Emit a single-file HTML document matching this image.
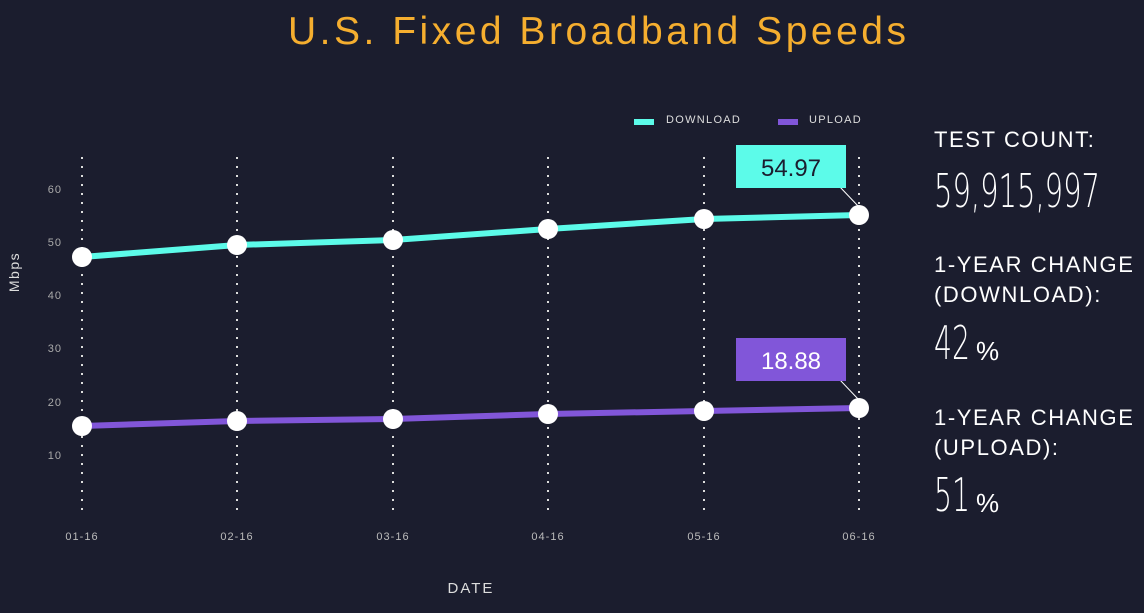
<!DOCTYPE html>
<html><head><style>
body{margin:0;width:1144px;height:608px;background:#1b1d2e;overflow:hidden;font-family:"Liberation Sans",sans-serif}
</style></head><body>
<svg width="1144" height="608" xmlns="http://www.w3.org/2000/svg">
<text x="597" y="44" text-anchor="middle" fill="#f5ae2f" font-size="39" font-family="Liberation Sans" textLength="618" lengthAdjust="spacing">U.S. Fixed Broadband Speeds</text>
<g stroke="#ddd" stroke-width="2" stroke-dasharray="2 7">
<line x1="82" y1="157" x2="82" y2="515"/><line x1="237" y1="157" x2="237" y2="515"/><line x1="393" y1="157" x2="393" y2="515"/><line x1="548" y1="157" x2="548" y2="515"/><line x1="704" y1="157" x2="704" y2="515"/><line x1="859" y1="157" x2="859" y2="515"/>
</g>
<g fill="#aaa" font-size="11" text-anchor="end" letter-spacing="1">
<text x="62" y="193">60</text><text x="62" y="246">50</text><text x="62" y="299">40</text><text x="62" y="352">30</text><text x="62" y="406">20</text><text x="62" y="459">10</text>
</g>
<text transform="translate(19,272) rotate(-90)" text-anchor="middle" fill="#ddd" font-size="14" letter-spacing="1.5">Mbps</text>
<g fill="#bbb" font-size="11" text-anchor="middle" letter-spacing="1">
<text x="82" y="540">01-16</text><text x="237" y="540">02-16</text><text x="393" y="540">03-16</text><text x="548" y="540">04-16</text><text x="704" y="540">05-16</text><text x="859" y="540">06-16</text>
</g>
<text x="471" y="593" text-anchor="middle" fill="#ddd" font-size="15" letter-spacing="2">DATE</text>
<rect x="634" y="119" width="20" height="6" fill="#5cfbe9"/><text x="666" y="123" fill="#ddd" font-size="11" letter-spacing="1.3">DOWNLOAD</text>
<rect x="778" y="119" width="20" height="6" fill="#8156d9"/><text x="809" y="123" fill="#ddd" font-size="11" letter-spacing="1.3">UPLOAD</text>
<polyline points="82,257 237,245 393,240 548,229 704,219 859,215" fill="none" stroke="#5cfbe9" stroke-width="6"/>
<polyline points="82,426 237,421 393,419 548,414 704,411 859,408" fill="none" stroke="#8156d9" stroke-width="6"/>
<g fill="#fff">
<circle cx="82" cy="257" r="10"/><circle cx="237" cy="245" r="10"/><circle cx="393" cy="240" r="10"/><circle cx="548" cy="229" r="10"/><circle cx="704" cy="219" r="10"/><circle cx="859" cy="215" r="10"/>
<circle cx="82" cy="426" r="10"/><circle cx="237" cy="421" r="10"/><circle cx="393" cy="419" r="10"/><circle cx="548" cy="414" r="10"/><circle cx="704" cy="411" r="10"/><circle cx="859" cy="408" r="10"/>
</g>
<line x1="840" y1="187" x2="859" y2="207" stroke="#fff" stroke-width="1"/>
<rect x="736" y="145" width="110" height="43" fill="#5cfbe9"/>
<text x="791" y="176" text-anchor="middle" fill="#1b1d2e" font-size="24">54.97</text>
<line x1="840" y1="380" x2="859" y2="400" stroke="#fff" stroke-width="1"/>
<rect x="736" y="338" width="110" height="43" fill="#8156d9"/>
<text x="791" y="369" text-anchor="middle" fill="#fff" font-size="24">18.88</text>
<g fill="#fff" font-size="22" letter-spacing="1.6">
<text x="934" y="147">TEST COUNT:</text>
<text x="934" y="272">1-YEAR CHANGE</text><text x="934" y="302">(DOWNLOAD):</text>
<text x="934" y="425">1-YEAR CHANGE</text><text x="934" y="455">(UPLOAD):</text>
</g>
<g fill="#fff" font-family="DejaVu Sans, sans-serif" font-weight="200">
<text x="934" y="207" font-size="46" textLength="166" lengthAdjust="spacingAndGlyphs">59,915,997</text>
<text x="934" y="359" font-size="46" textLength="36" lengthAdjust="spacingAndGlyphs">42</text>
<text x="934" y="511" font-size="46" textLength="36" lengthAdjust="spacingAndGlyphs">51</text>
</g>
<text x="976" y="360" fill="#fff" font-size="26">%</text>
<text x="976" y="512" fill="#fff" font-size="26">%</text>
</svg>
</body></html>
